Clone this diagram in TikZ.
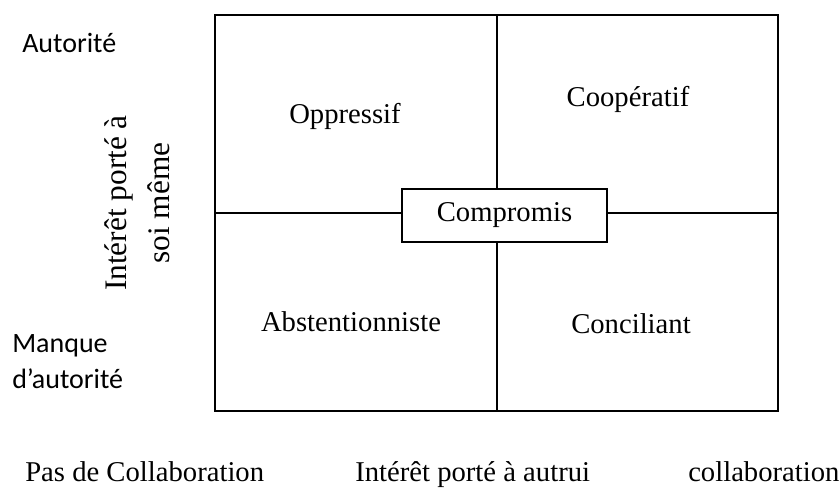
\documentclass[tikz,border=0pt]{standalone}
\usepackage{fontspec}
\setmainfont{Liberation Serif}
\newfontfamily\calib{Carlito}
\begin{document}
\begin{tikzpicture}[x=0.75pt,y=-0.75pt,
  tm/.style={font=\fontsize{21.5}{27}\selectfont, inner sep=0pt},
  cb/.style={font=\calib\fontsize{21}{27}\selectfont, inner sep=0pt},
  frame/.style={draw=black, line width=1.2pt}]
\useasboundingbox (0,0) rectangle (840,492);
\node[frame, minimum width=563*0.75pt, minimum height=396*0.75pt, inner sep=0pt] (box) at (496.5,213) {};
\coordinate (top) at (497,15);
\coordinate (bot) at (497,411);
\coordinate (lft) at (215,213);
\coordinate (rgt) at (778,213);
\node[frame, fill=white, minimum width=205*0.75pt, minimum height=53*0.75pt, inner sep=0pt] (comp) at (504.5,215.5) {};
\draw[frame] (top) -- (comp.north -| top);
\draw[frame] (comp.south -| bot) -- (bot);
\draw[frame] (lft) -- (comp.west |- lft);
\draw[frame] (comp.east |- rgt) -- (rgt);
\node[tm] (comptxt) at (comp.center) {Compromis};
\node[tm] (opp) at (345,116) {Oppressif};
\node[tm] (coop) at (628,99) {Coopératif};
\node[tm] (abs) at (351,322) {Abstentionniste};
\node[tm] (conc) at (631,324) {Conciliant};
\node[tm, rotate=90, align=center, font=\fontsize{23.5}{32}\selectfont] (ip) at (137,203) {Intérêt porté à\\soi même};
\node[cb, anchor=base west] (aut) at (22,53) {Autorité};
\node[cb, anchor=west, align=left] (mq) at (12,362) {Manque\\d’autorité};
\node[tm, anchor=base west] (pc) at (25,481) {Pas de Collaboration};
\node[tm, anchor=base west] (ia) at (355,481) {Intérêt porté à autrui};
\node[tm, anchor=base west] (col) at (688,481) {collaboration};
\end{tikzpicture}
\end{document}
